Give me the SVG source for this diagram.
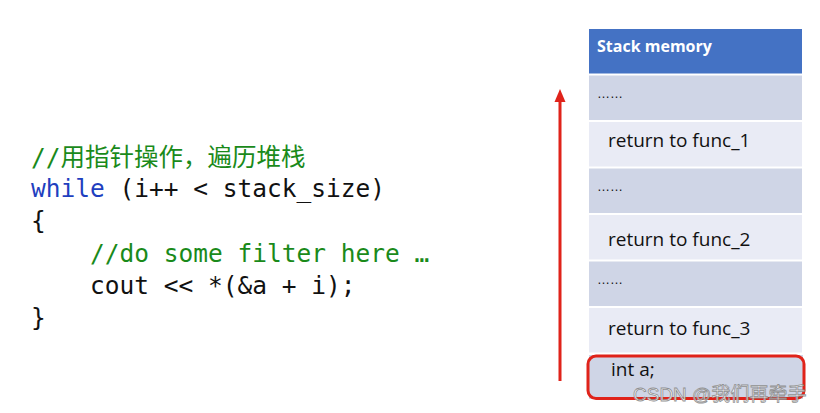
<svg xmlns="http://www.w3.org/2000/svg" width="820" height="413" viewBox="0 0 820 413">
<style>
.code{font-family:"DejaVu Sans Mono","Noto Sans CJK SC",monospace;font-size:24.5px;fill:#111}
.cm{fill:#1a8a1a}
.kw{fill:#1f3fbf}
.dk{fill:#cfd5e6}
.lt{fill:#e9ebf5}
.lbl{font-family:"Open Sans","Liberation Sans",Arial,sans-serif;font-size:19px;fill:#111}
.dots{font-family:"Liberation Sans",Arial,sans-serif;font-size:13px;fill:#111}
</style>
<rect width="820" height="413" fill="#fff"/>
<g id="code">
<text class="code cm" x="31" y="166">//用指针操作，遍历堆栈</text>
<text class="code" x="31" y="197"><tspan class="kw">while</tspan> (i++ &lt; stack_size)</text>
<text class="code" x="31" y="229">{</text>
<text class="code cm" x="90" y="262">//do some filter here …</text>
<text class="code" x="90" y="294">cout &lt;&lt; *(&amp;a + i);</text>
<text class="code" x="31" y="326">}</text>
</g>
<g id="connectors">
<line x1="560" y1="381" x2="560" y2="100" stroke="#e0231a" stroke-width="3"/>
<polygon points="560,89 554.5,102 565.5,102" fill="#e0231a"/>
</g>
<g id="header"><rect x="589" y="29" width="213" height="44.5" fill="#4472c4"/>
<text x="597" y="52" font-family="Open Sans,Liberation Sans,Arial,sans-serif" font-size="16" font-weight="bold" fill="#fff">Stack memory</text></g>
<g id="row1"><rect class="dk" x="589" y="75.5" width="213" height="44.5"/><text class="dots" x="597" y="98">……</text></g>
<g id="row2"><rect class="lt" x="589" y="122" width="213" height="44.5"/><text class="lbl" x="608" y="147">return to func_1</text></g>
<g id="row3"><rect class="dk" x="589" y="168.5" width="213" height="44.5"/><text class="dots" x="597" y="191">……</text></g>
<g id="row4"><rect class="lt" x="589" y="215" width="213" height="44.5"/><text class="lbl" x="608" y="246">return to func_2</text></g>
<g id="row5"><rect class="dk" x="589" y="261.5" width="213" height="44.5"/><text class="dots" x="597" y="284">……</text></g>
<g id="row6"><rect class="lt" x="589" y="308" width="213" height="44.5"/><text class="lbl" x="608" y="335">return to func_3</text></g>
<g id="row7"><rect class="dk" x="589" y="355" width="214" height="44"/>
<rect x="588" y="356" width="216" height="42.5" rx="8" fill="none" stroke="#e0231a" stroke-width="3"/>
<text class="lbl" x="611" y="376" font-size="16.5">int a;</text></g>
<text x="633" y="401" font-family="Liberation Sans,'Noto Sans CJK SC',sans-serif" font-size="19" fill="#fff" stroke="#888" stroke-width="0.8" opacity="0.9">CSDN @我们再牵手</text>
</svg>
